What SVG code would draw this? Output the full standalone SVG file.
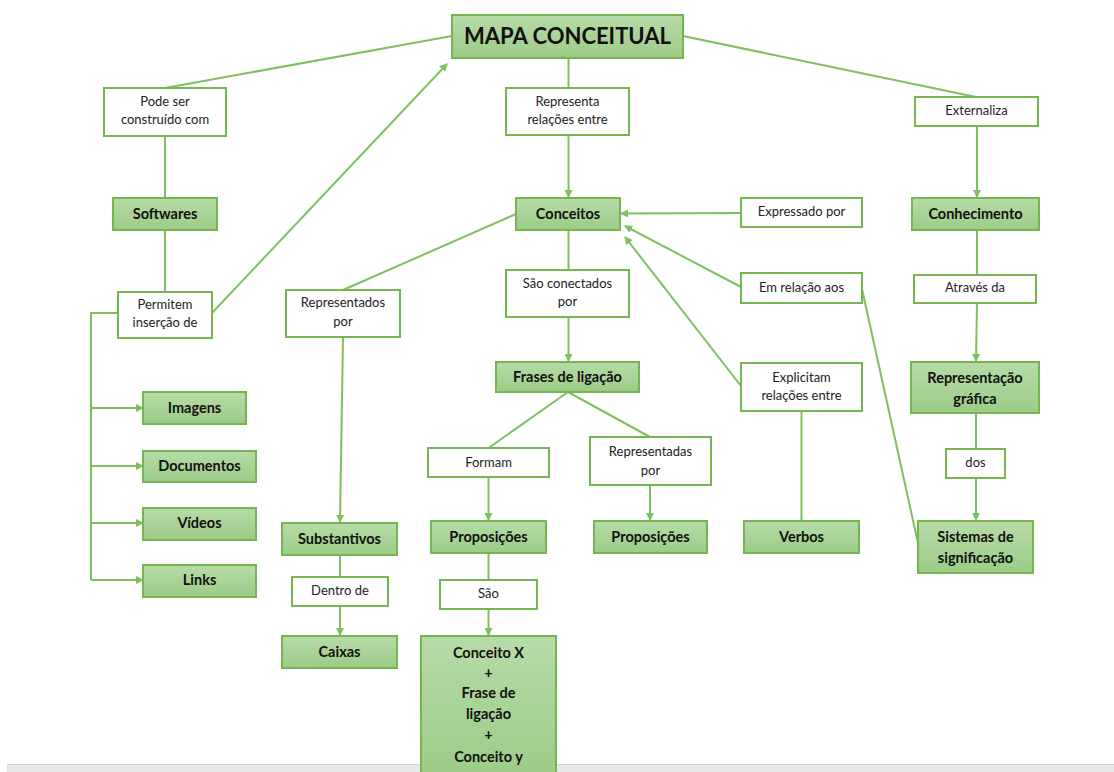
<svg xmlns="http://www.w3.org/2000/svg" width="1114" height="772" viewBox="0 0 1114 772">
<style>
.g{fill:url(#gr);stroke:#74b64f;stroke-width:2}
.w{fill:#fff;stroke:#74b64f;stroke-width:2}
.c{fill:none;stroke:#7ec05e;stroke-width:2}
.a{marker-end:url(#ar)}
.t{font-family:Lato,"Liberation Sans",sans-serif;font-size:13px;fill:#222;text-anchor:middle}
.b{font-family:Lato,"Liberation Sans",sans-serif;font-size:14.5px;font-weight:bold;fill:#111;text-anchor:middle}
</style>
<defs>
<linearGradient id="gr" x1="0" y1="0" x2="0" y2="1">
<stop offset="0" stop-color="#b8dba9"/>
<stop offset="1" stop-color="#9ccb86"/>
</linearGradient>
<marker id="ar" markerWidth="8" markerHeight="8" refX="7" refY="4" orient="auto" markerUnits="userSpaceOnUse">
<path d="M0,0 L8,4 L0,8 z" fill="#7ec05e"/>
</marker>
</defs>
<rect x="0" y="0" width="1114" height="772" fill="#fff"/>
<rect x="7" y="764" width="1107" height="8" fill="#e8e8e8"/>
<line x1="7" y1="764.5" x2="1114" y2="764.5" stroke="#d6d6d6" stroke-width="1"/>
<g id="connectors">
<line class="c" x1="165" y1="88" x2="452" y2="36"/>
<line class="c" x1="165" y1="136" x2="165" y2="198"/>
<line class="c" x1="165" y1="230" x2="165" y2="292"/>
<line class="c a" x1="212" y1="313" x2="447" y2="64"/>
<polyline class="c" points="118,313 91,313 91,580"/>
<line class="c a" x1="91" y1="408" x2="143" y2="408"/>
<line class="c a" x1="91" y1="466" x2="143" y2="466"/>
<line class="c a" x1="91" y1="523" x2="143" y2="523"/>
<line class="c a" x1="91" y1="580" x2="143" y2="580"/>
<line class="c" x1="343" y1="290" x2="516" y2="214"/>
<line class="c a" x1="343" y1="337" x2="340" y2="522"/>
<line class="c" x1="340" y1="555" x2="340" y2="577"/>
<line class="c a" x1="340" y1="606" x2="340" y2="635"/>
<line class="c" x1="568.5" y1="57" x2="568.5" y2="88"/>
<line class="c a" x1="568.5" y1="135" x2="568.5" y2="197"/>
<line class="c" x1="568.5" y1="230" x2="568.5" y2="270"/>
<line class="c a" x1="568.5" y1="317" x2="568.5" y2="361"/>
<line class="c a" x1="741" y1="213" x2="621" y2="213.5"/>
<line class="c a" x1="741" y1="287" x2="625" y2="226"/>
<line class="c a" x1="741" y1="386" x2="625" y2="237"/>
<line class="c" x1="801.5" y1="412" x2="801.5" y2="521"/>
<line class="c" x1="862" y1="289" x2="918" y2="543"/>
<line class="c" x1="568" y1="392" x2="488.5" y2="448"/>
<line class="c" x1="568" y1="392" x2="650" y2="437"/>
<line class="c a" x1="488.5" y1="477" x2="488.5" y2="520"/>
<line class="c" x1="488.5" y1="553" x2="488.5" y2="580"/>
<line class="c a" x1="488.5" y1="609" x2="488.5" y2="635"/>
<line class="c a" x1="650" y1="486" x2="650" y2="520"/>
<line class="c" x1="683" y1="36" x2="976" y2="97"/>
<line class="c a" x1="977" y1="126" x2="977" y2="197"/>
<line class="c" x1="977" y1="230" x2="977" y2="275"/>
<line class="c a" x1="977" y1="303" x2="976" y2="361"/>
<line class="c" x1="976" y1="413" x2="976" y2="449"/>
<line class="c a" x1="976" y1="478" x2="976" y2="520"/>
</g>
<g id="n-mapa"><rect class="g" x="452" y="15" width="231" height="43"/><text class="b" x="567.5" y="44" style="font-size:22px">MAPA CONCEITUAL</text></g>
<g id="n-podeser"><rect class="w" x="104" y="88" width="122" height="48"/><text class="t" x="165" y="105.5">Pode ser</text><text class="t" x="165" y="123.5">construído com</text></g>
<g id="n-softwares"><rect class="g" x="113" y="198" width="104" height="32"/><text class="b" x="165" y="219">Softwares</text></g>
<g id="n-permitem"><rect class="w" x="118" y="292" width="94" height="46"/><text class="t" x="165" y="308.5">Permitem</text><text class="t" x="165" y="326.5">inserção de</text></g>
<g id="n-imagens"><rect class="g" x="143" y="392" width="103" height="32"/><text class="b" x="194.5" y="413">Imagens</text></g>
<g id="n-documentos"><rect class="g" x="143" y="451" width="113" height="31"/><text class="b" x="199.5" y="471">Documentos</text></g>
<g id="n-videos"><rect class="g" x="143" y="508" width="113" height="32"/><text class="b" x="199.5" y="528">Vídeos</text></g>
<g id="n-links"><rect class="g" x="143" y="565" width="113" height="32"/><text class="b" x="199.5" y="585">Links</text></g>
<g id="n-representados"><rect class="w" x="286" y="290" width="114" height="47"/><text class="t" x="343" y="307">Representados</text><text class="t" x="343" y="325.5">por</text></g>
<g id="n-substantivos"><rect class="g" x="282" y="523" width="115" height="32"/><text class="b" x="339.5" y="543.5">Substantivos</text></g>
<g id="n-dentro"><rect class="w" x="292" y="577" width="96" height="29"/><text class="t" x="340" y="594.5">Dentro de</text></g>
<g id="n-caixas"><rect class="g" x="282" y="636" width="115" height="32"/><text class="b" x="339.5" y="657">Caixas</text></g>
<g id="n-representa"><rect class="w" x="506" y="88" width="123" height="47"/><text class="t" x="567.5" y="105.5">Representa</text><text class="t" x="567.5" y="123.5">relações entre</text></g>
<g id="n-conceitos"><rect class="g" x="516" y="198" width="104" height="32"/><text class="b" x="568" y="219">Conceitos</text></g>
<g id="n-expressado"><rect class="w" x="741" y="198" width="121" height="29"/><text class="t" x="801.5" y="215.5">Expressado por</text></g>
<g id="n-emrelacao"><rect class="w" x="741" y="273" width="121" height="30"/><text class="t" x="801.5" y="291.5">Em relação aos</text></g>
<g id="n-conectados"><rect class="w" x="506" y="270" width="123" height="47"/><text class="t" x="567.5" y="287.5">São conectados</text><text class="t" x="567.5" y="305.5">por</text></g>
<g id="n-frases"><rect class="g" x="496" y="362" width="143" height="30"/><text class="b" x="567.5" y="382">Frases de ligação</text></g>
<g id="n-formam"><rect class="w" x="428" y="448" width="121" height="29"/><text class="t" x="488.5" y="466.5">Formam</text></g>
<g id="n-representadas"><rect class="w" x="590" y="437" width="121" height="48"/><text class="t" x="650.5" y="456">Representadas</text><text class="t" x="650.5" y="474.5">por</text></g>
<g id="n-proposicoes1"><rect class="g" x="431" y="521" width="115" height="32"/><text class="b" x="488.5" y="541.5">Proposições</text></g>
<g id="n-proposicoes2"><rect class="g" x="594" y="521" width="113" height="32"/><text class="b" x="650.5" y="541.5">Proposições</text></g>
<g id="n-sao"><rect class="w" x="440" y="580" width="97" height="29"/><text class="t" x="488.5" y="597.5">São</text></g>
<g id="n-conceitox"><rect class="g" x="421" y="636" width="135" height="140"/><text class="b" x="488.5" y="657.5">Conceito X</text><text class="b" x="488.5" y="678">+</text><text class="b" x="488.5" y="698">Frase de</text><text class="b" x="488.5" y="719">ligação</text><text class="b" x="488.5" y="740">+</text><text class="b" x="488.5" y="761.5">Conceito y</text></g>
<g id="n-explicitam"><rect class="w" x="741" y="363" width="121" height="48"/><text class="t" x="801.5" y="382">Explicitam</text><text class="t" x="801.5" y="400">relações entre</text></g>
<g id="n-verbos"><rect class="g" x="744" y="521" width="115" height="32"/><text class="b" x="801.5" y="541.5">Verbos</text></g>
<g id="n-externaliza"><rect class="w" x="915" y="97" width="123" height="29"/><text class="t" x="976.5" y="114.5">Externaliza</text></g>
<g id="n-conhecimento"><rect class="g" x="912" y="198" width="127" height="32"/><text class="b" x="975.5" y="219">Conhecimento</text></g>
<g id="n-atraves"><rect class="w" x="914" y="275" width="122" height="28"/><text class="t" x="975" y="291.5">Através da</text></g>
<g id="n-repgrafica"><rect class="g" x="911" y="362" width="128" height="51"/><text class="b" x="975" y="382.5">Representação</text><text class="b" x="975" y="403.5">gráfica</text></g>
<g id="n-dos"><rect class="w" x="946" y="449" width="59" height="29"/><text class="t" x="975.5" y="466.5">dos</text></g>
<g id="n-sistemas"><rect class="g" x="918" y="521" width="115" height="52"/><text class="b" x="975.5" y="541.5">Sistemas de</text><text class="b" x="975.5" y="562.5">significação</text></g>
</svg>
